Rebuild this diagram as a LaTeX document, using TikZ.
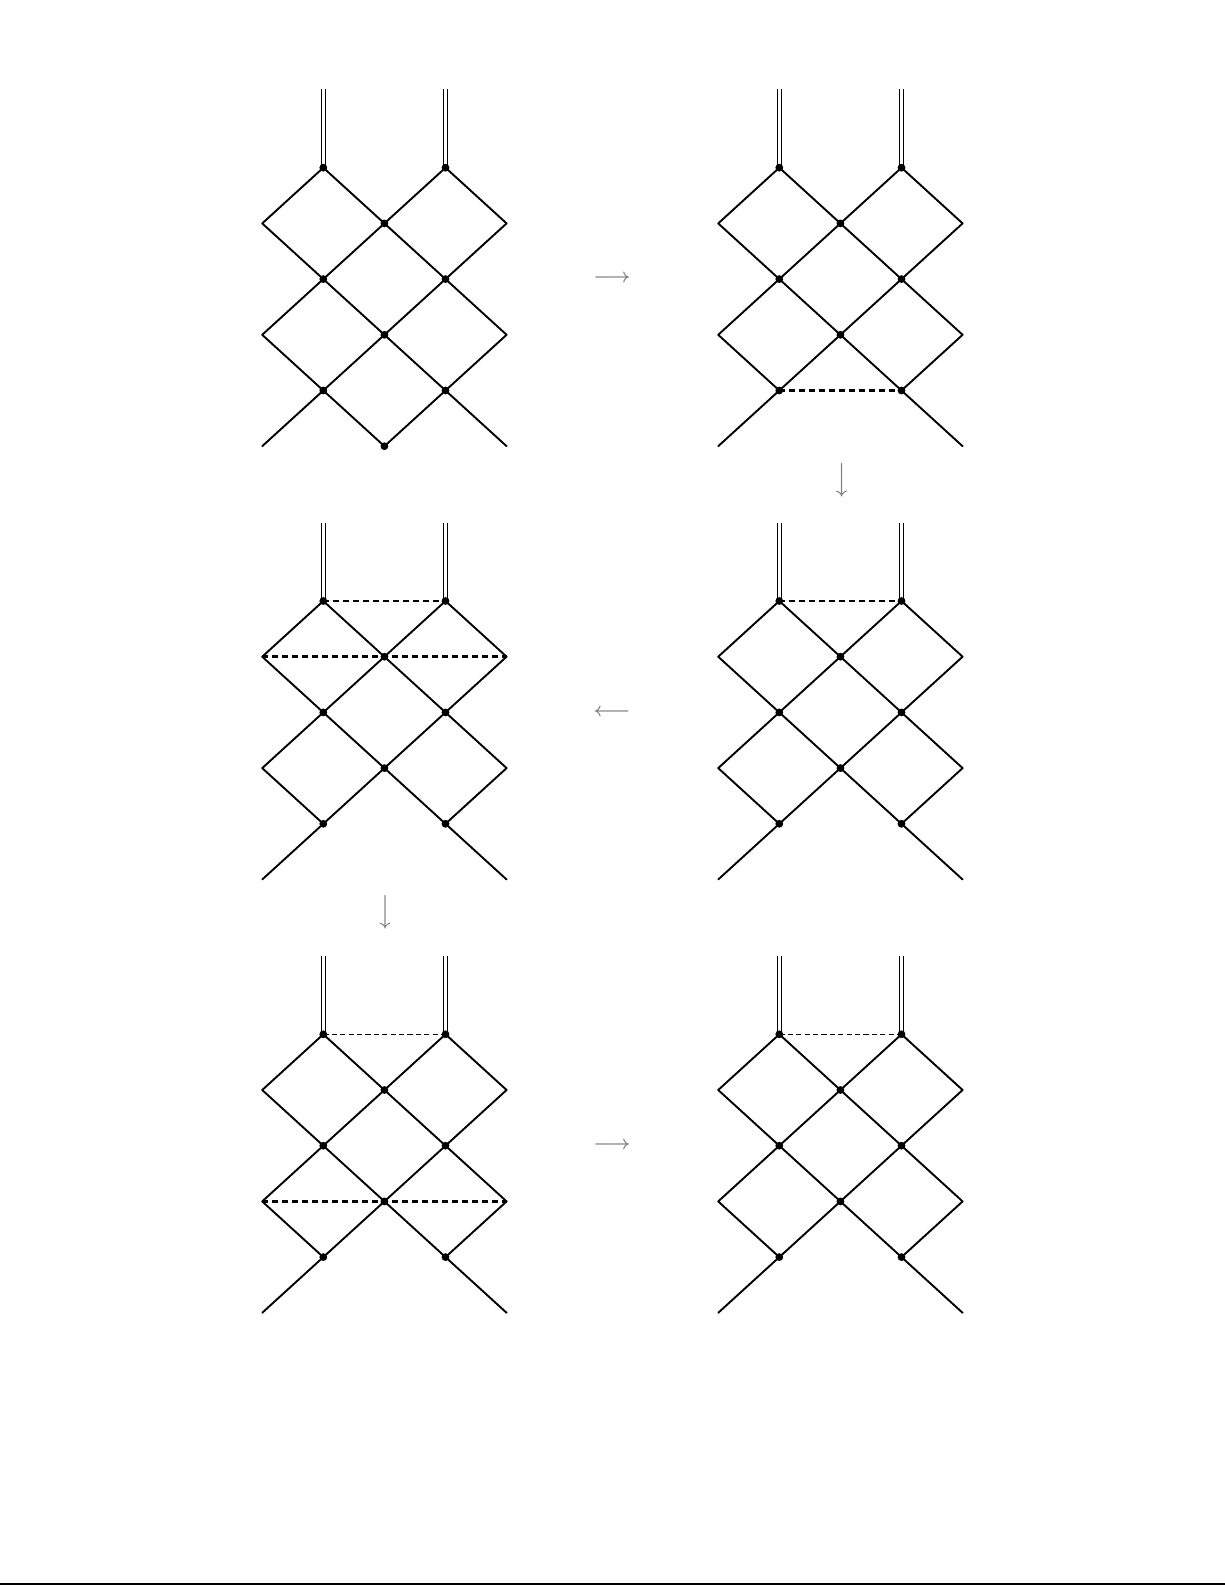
\documentclass[tikz,border=0pt]{standalone}
\newcommand\colstep{61.1}
\newcommand\rowstep{55.7}
\tikzset{
 x=0.5pt, y=-0.5pt,
 edge/.style={line width=0.95pt, line cap=round, line join=round},
 leg/.style={double, line width=0.55pt, double distance=1.45pt},
 bolddash/.style={line width=1.25pt, dash pattern=on 3pt off 2pt},
 thindash/.style={line width=0.6pt, dash pattern=on 2.6pt off 1.6pt},
 garrow/.style={text=black!50, inner sep=0pt, font=\boldmath},
}
\newcommand\mkpanel[3]{%
\begin{scope}[shift={(#2,#3)}]
\coordinate (#1uA) at (0,-78.4);
\coordinate (#1uB) at (2*\colstep,-78.4);
\coordinate (#1tA) at (0,0);
\coordinate (#1tB) at (2*\colstep,0);
\coordinate (#1L1) at (-\colstep,\rowstep);
\coordinate (#1M1) at (\colstep,\rowstep);
\coordinate (#1R1) at (3*\colstep,\rowstep);
\coordinate (#1L2) at (0,2*\rowstep);
\coordinate (#1R2) at (2*\colstep,2*\rowstep);
\coordinate (#1L3) at (-\colstep,3*\rowstep);
\coordinate (#1M3) at (\colstep,3*\rowstep);
\coordinate (#1R3) at (3*\colstep,3*\rowstep);
\coordinate (#1L4) at (0,4*\rowstep);
\coordinate (#1R4) at (2*\colstep,4*\rowstep);
\coordinate (#1E0) at (-\colstep,5*\rowstep);
\coordinate (#1E2) at (\colstep,5*\rowstep);
\coordinate (#1E4) at (3*\colstep,5*\rowstep);
\end{scope}
\draw[leg] (#1uA) -- (#1tA);
\draw[leg] (#1uB) -- (#1tB);
\draw[edge] (#1tA) -- (#1L1) -- (#1L2) -- (#1M1) -- cycle;
\draw[edge] (#1tB) -- (#1M1) -- (#1R2) -- (#1R1) -- cycle;
\draw[edge] (#1L2) -- (#1L3) -- (#1L4) -- (#1M3) -- cycle;
\draw[edge] (#1R2) -- (#1M3) -- (#1R4) -- (#1R3) -- cycle;
\draw[edge] (#1L4) -- (#1E0);
\draw[edge] (#1R4) -- (#1E4);
}
\newcommand\mkdots[1]{%
\foreach \p in {tA,tB,M1,L2,R2,M3,L4,R4} {\fill (#1\p) circle (1.95pt);}
}
\begin{document}
\begin{tikzpicture}
\useasboundingbox (0,0) rectangle (1225,1585);
% panel 1
\mkpanel{a}{323.3}{167.7}
\draw[edge] (aL4) -- (aE2) -- (aR4);
\mkdots{a}
\fill (aE2) circle (1.95pt);
% panel 2
\mkpanel{b}{779.3}{167.7}
\draw[bolddash] (bL4) -- (bR4);
\mkdots{b}
% panel 3
\mkpanel{c}{323.3}{601}
\draw[bolddash] (ctA) -- (ctB);
\draw[bolddash] (cL1) -- (cM1) -- (cR1);
\mkdots{c}
% panel 4
\mkpanel{d}{779.3}{601}
\draw[bolddash] (dtA) -- (dtB);
\mkdots{d}
% panel 5
\mkpanel{e}{323.3}{1034.3}
\draw[thindash] (etA) -- (etB);
\draw[bolddash] (eL3) -- (eM3) -- (eR3);
\mkdots{e}
% panel 6
\mkpanel{f}{779.3}{1034.3}
\draw[thindash] (ftA) -- (ftB);
\mkdots{f}
% arrows between panels
\node[garrow] (ar1) at (612,279) {$\longrightarrow$};
\node[garrow, rotate=-90] (ar2) at (840.5,480) {$\longrightarrow$};
\node[garrow] (ar3) at (612,712.3) {$\longleftarrow$};
\node[garrow, rotate=-90] (ar4) at (384,912) {$\longrightarrow$};
\node[garrow] (ar5) at (612,1145.7) {$\longrightarrow$};
% bottom rule
\coordinate (rl) at (0,1583.5);
\coordinate (rr) at (1225,1583.5);
\draw[line width=1pt] (rl) -- (rr);
\end{tikzpicture}
\end{document}
